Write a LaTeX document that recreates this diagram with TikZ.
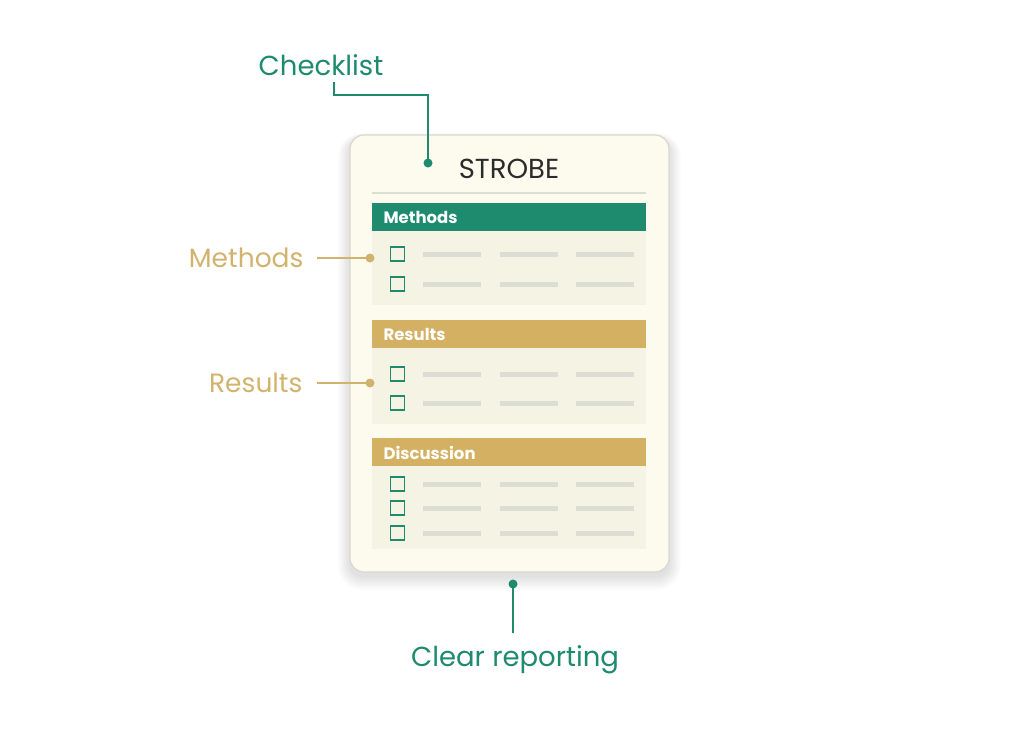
\documentclass[tikz,border=0pt]{standalone}
\usepackage{fontspec}
\setmainfont{Poppins}
\definecolor{tealc}{HTML}{1E8A6E}
\definecolor{goldc}{HTML}{D4B062}
\definecolor{goldt}{HTML}{D2B36E}
\definecolor{cream}{HTML}{FDFBEE}
\definecolor{creamb}{HTML}{F5F3E4}
\definecolor{cardb}{HTML}{D9D8CF}
\definecolor{linec}{HTML}{DCDDD3}
\definecolor{darkt}{HTML}{2B2B2B}
\tikzset{
  x=1pt, y=-1pt,
  card/.style={draw=cardb, line width=1.2pt, fill=cream, rounded corners=14pt},
  head/.style={anchor=west, text=white, font=\fontsize{16.5}{20}\selectfont\bfseries},
  cbox/.style={draw=tealc, line width=1.4pt, minimum size=14pt, inner sep=0pt},
  bar/.style={line width=5pt, linec},
  dotg/.style={circle, fill=tealc, inner sep=0pt, minimum size=9pt},
  dotgold/.style={circle, fill=goldt, inner sep=0pt, minimum size=9pt},
  lbl/.style={font=\fontsize{26.5}{32}\selectfont},
  lblt/.style={font=\fontsize{27.5}{32}\selectfont},
}
\begin{document}
\begin{tikzpicture}
\useasboundingbox[fill=white] (0,0) rectangle (1024,747);
% soft shadow
\foreach \k in {1,...,10}{
  \fill[black, opacity=0.012, rounded corners=14pt+\k pt] (350-\k*1.2,135+4-\k*0.6) rectangle (669+\k*1.2,572+4+\k*1.4);
}
% card
\draw[card] (350,135) rectangle (669,572);
\node[text=darkt, font=\fontsize{27.5}{30}\selectfont] (strobe) at (509,169) {STROBE};
\draw[line width=2pt, linec] (372,193) -- (646,193);
% Methods
\fill[tealc] (372,203) rectangle (646,231);
\node[head] (hm) at (380,217.5) {Methods};
\fill[creamb] (372,231) rectangle (646,305);
% Results
\fill[goldc] (372,320) rectangle (646,348);
\node[head] (hr) at (380,334.5) {Results};
\fill[creamb] (372,348) rectangle (646,424);
% Discussion
\fill[goldc] (372,438) rectangle (646,466);
\node[head] (hd) at (380,452.5) {Discussion};
\fill[creamb] (372,466) rectangle (646,549);
% rows
\foreach \yy/\nm in {254/m1,284/m2,374/r1,403/r2,484/d1,508/d2,533/d3}{
  \node[cbox] (\nm) at (397.5,\yy) {};
  \draw[bar] (423,\yy) -- (481,\yy);
  \draw[bar] (500,\yy) -- (558,\yy);
  \draw[bar] (576,\yy) -- (634,\yy);
}
% callouts
\node[lblt, text=tealc] (checklist) at (321,65) {Checklist};
\node[dotg] (dck) at (428,163) {};
\draw[tealc, line width=1.4pt] (334,82) -- (334,95) -- (428,95) -- (dck.center);

\node[lbl, text=goldt, anchor=east] (lm) at (307,258) {Methods};
\node[dotgold] (dm) at (370,258) {};
\draw[goldt, line width=1.4pt] (317,258) -- (dm.center);

\node[lbl, text=goldt, anchor=east] (lr) at (306,383) {Results};
\node[dotgold] (dr) at (370,383) {};
\draw[goldt, line width=1.4pt] (317,383) -- (dr.center);

\node[dotg] (dcr) at (513,584) {};
\node[lblt, text=tealc] (clear) at (515,660) {Clear reporting};
\draw[tealc, line width=1.4pt] (dcr.center) -- (513,633);
\end{tikzpicture}
\end{document}
